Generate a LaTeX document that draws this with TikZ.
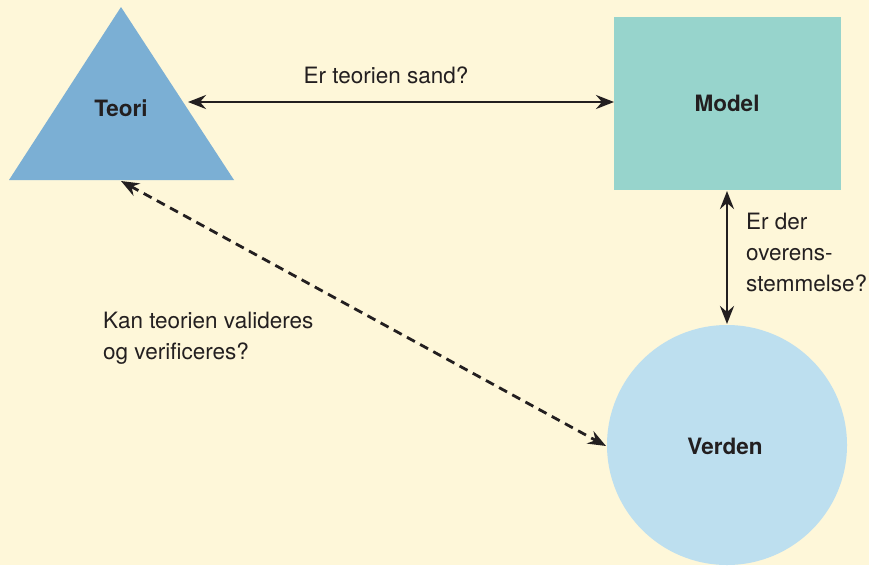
\documentclass[tikz,border=0pt]{standalone}
\usepackage{fontspec}
\setmainfont{TeX Gyre Heros}
\usetikzlibrary{arrows.meta}
\definecolor{bg}{HTML}{FEF7D9}
\definecolor{tri}{HTML}{7BAFD4}
\definecolor{box}{HTML}{97D4CC}
\definecolor{circ}{HTML}{BDDFEF}
\definecolor{ink}{HTML}{231F20}
\tikzset{
  conn/.style={draw=ink, line width=2.8pt, {Stealth[length=18pt,width=14pt,inset=6pt]}-{Stealth[length=18pt,width=14pt,inset=6pt]}},
  dashconn/.style={conn, dash pattern=on 9pt off 6pt},
  lbl/.style={text=ink, font=\fontsize{22.5}{31}\selectfont, inner sep=0pt},
  blbl/.style={text=ink, font=\fontsize{22.5}{26}\selectfont\bfseries, inner sep=0pt},
}
\begin{document}
\begin{tikzpicture}[x=1pt,y=-1pt]
\fill[bg] (0,0) rectangle (869,565);
\useasboundingbox (0,0) rectangle (869,565);
% shapes
\fill[tri] (121,7) -- (234,180) -- (9,180) -- cycle;
\coordinate (triR) at (188,102);
\coordinate (triB) at (121,181);
\node[blbl] (teori) at (121,108) {Teori};
\fill[box] (614,17) rectangle (841,190);
\coordinate (boxL) at (614,102);
\coordinate (boxB) at (727,191);
\node[blbl] (model) at (727,103) {Model};
\fill[circ] (727,445) circle (120);
\coordinate (circT) at (727,324);
\coordinate (circL) at (606,446);
\node[blbl] (verden) at (725,446) {Verden};
% connectors
\draw[conn] (triR) -- (boxL);
\draw[conn] (boxB) -- (circT);
\draw[dashconn] (triB) -- (circL);
% labels
\node[lbl] (q1) at (386,75) {Er teorien sand?};
\node[lbl, anchor=north west, align=left] (q2) at (746,213) {Er der\\overens-\\stemmelse?};
\node[lbl, anchor=north west, align=left] (q3) at (103,312) {Kan teorien valideres\\og verificeres?};
\end{tikzpicture}
\end{document}
